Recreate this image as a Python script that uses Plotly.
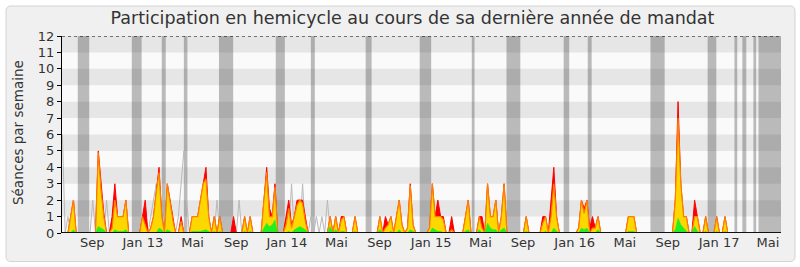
import pandas as pd
import plotly.graph_objects as go

# ---------------- data (weekly, first week starting 2012-06-11) ----------------
week_start = "2012-06-11"

# red: présences
presence = [
    0, 0, 0, 1, 2, 0, 0, 0, 0, 0,        # 0-9
    0, 0, 0, 5, 3, 1.2, 0, 0, 1, 3,      # 10-19
    1, 1, 1, 2, 0, 0, 0, 0, 0, 1,        # 20-29
    2, 0, 0.3, 1, 2.5, 4, 1, 0, 3, 2,    # 30-39
    1, 0, 0, 1, 0, 0, 0, 1, 1, 1,        # 40-49
    2, 3, 4, 1, 0, 1, 0, 1, 0, 0,        # 50-59
    0, 0, 1, 0, 0, 0, 1, 0, 1, 0,        # 60-69
    0, 0, 0, 2, 4, 1.5, 1, 3, 0, 0,      # 70-79
    0, 1, 2, 0.5, 1, 2, 2, 2, 1, 0,      # 80-89
    0, 0, 0, 0, 0, 0, 0, 1, 0, 1,        # 90-99
    0, 1, 1, 0, 0, 0, 1, 0, 0, 0,        # 100-109
    0, 0, 0, 0, 0, 1, 0, 1, 0.5, 1,      # 110-119
    0, 1, 2, 0.5, 0, 0.3, 3, 0.5, 0, 0,  # 120-129
    0, 0, 0, 0.3, 3, 1, 2, 1, 1, 0,      # 130-139
    0, 1, 0, 0, 0, 0, 1, 2, 0, 0,        # 140-149
    0, 1, 1, 0, 3, 1, 1, 2, 0, 1,        # 150-159
    3, 0, 0, 0, 0, 0, 0, 0, 1, 0,        # 160-169
    0, 0, 0, 0, 1, 1, 0, 2, 4, 1,        # 170-179
    0, 0, 0, 0, 0, 0, 0, 0.3, 2, 1.5,    # 180-189
    2, 0.3, 1, 0.3, 1, 0, 0, 0, 0, 0,    # 190-199
    0, 0, 0, 0, 0, 1, 1, 1, 0, 0,        # 200-209
    0, 0, 0, 0, 0, 0, 0, 0, 0, 0,        # 210-219
    0, 0, 2, 8, 3, 1, 1, 0, 0, 2,        # 220-229
    1, 0, 0, 1, 0, 0, 0, 1, 0, 0,        # 230-239
    1, 0, 0, 0, 0, 0, 0, 0, 0, 0,        # 240-249
    0, 0, 0, 0, 0, 0, 0, 0, 0, 0,        # 250-259
]

# yellow: participations
participation = [
    0, 0, 0, 1, 2, 0, 0, 0, 0, 0,
    0, 0, 0, 4.9, 2.6, 1, 0, 0, 0.3, 2,
    1, 1, 1, 2, 0, 0, 0, 0, 0, 1,
    0.5, 0, 0.3, 1, 2.5, 3.7, 1, 0, 3, 1.8,
    0.8, 0, 0, 0.7, 0, 0, 0, 1, 1, 1,
    2, 3, 3.3, 1, 0, 1, 0, 1, 0, 0,
    0, 0, 0, 0, 0, 0, 1, 0, 1, 0,
    0, 0, 0, 2, 3.7, 1, 1, 2.8, 0, 0,
    0, 0.5, 1.5, 0.3, 1, 1.7, 2, 1.8, 0.7, 0,
    0, 0, 0, 0, 0, 0, 0, 1, 0, 1,
    0, 0.8, 1, 0, 0, 0, 1, 0, 0, 0,
    0, 0, 0, 0, 0, 1, 0, 0.3, 0.5, 1,
    0, 1, 2, 0.5, 0, 0.3, 2.9, 0.5, 0, 0,
    0, 0, 0, 0.3, 3, 1, 1, 1, 0.8, 0,
    0, 0.2, 0, 0, 0, 0, 1, 2, 0, 0,
    0, 1, 0.3, 0, 3, 1, 1, 2, 0, 1,
    3, 0, 0, 0, 0, 0, 0, 0, 1, 0,
    0, 0, 0, 0, 0.6, 1, 0, 1, 3, 1,
    0, 0, 0, 0, 0, 0, 0, 0.3, 2, 1.2,
    2, 0, 0.3, 0.3, 1, 0, 0, 0, 0, 0,
    0, 0, 0, 0, 0, 1, 1, 1, 0, 0,
    0, 0, 0, 0, 0, 0, 0, 0, 0, 0,
    0, 0, 2, 7, 3, 1, 1, 0, 0, 1,
    1, 0, 0, 1, 0, 0, 0, 1, 0, 0,
    1, 0, 0, 0, 0, 0, 0, 0, 0, 0,
    0, 0, 0, 0, 0, 0, 0, 0, 0, 0,
]

# green: interventions
interventions = [
    0, 0, 0, 0, 0.2, 0, 0, 0, 0, 0,
    0, 0, 0, 0.4, 0.3, 0.2, 0, 0, 0, 0.2,
    0.1, 0.1, 0.1, 0.2, 0, 0, 0, 0, 0, 0,
    0, 0, 0, 0, 0, 0.3, 0.2, 0, 0.2, 0.1,
    0, 0, 0, 0, 0, 0, 0, 0.1, 0.1, 0.1,
    0.1, 0.15, 0.2, 0.1, 0, 0.1, 0, 0.1, 0, 0,
    0, 0, 0, 0, 0, 0, 0.1, 0, 0.1, 0,
    0, 0, 0, 0.3, 0.6, 0.4, 0.5, 0.8, 0, 0,
    0, 0, 0.1, 0, 0.2, 0.3, 0.4, 0.3, 0.2, 0,
    0, 0, 0, 0, 0, 0, 0, 0.4, 0, 0.2,
    0, 0.1, 0.1, 0, 0, 0, 0.1, 0, 0, 0,
    0, 0, 0, 0, 0, 0.2, 0, 0, 0, 0.1,
    0, 0, 0.2, 0, 0, 0, 0.2, 0.1, 0, 0,
    0, 0, 0, 0, 0.3, 0.2, 0.1, 0.1, 0, 0,
    0, 0, 0, 0, 0, 0, 0.1, 0.2, 0, 0,
    0, 0.2, 0, 0, 0.6, 0.3, 0.2, 0.2, 0, 0.2,
    0.3, 0, 0, 0, 0, 0, 0, 0, 0.1, 0,
    0, 0, 0, 0, 0, 0.1, 0, 0, 0.3, 0.1,
    0, 0, 0, 0, 0, 0, 0, 0, 0.3, 0.2,
    0.3, 0, 0, 0, 0.2, 0, 0, 0, 0, 0,
    0, 0, 0, 0, 0, 0.1, 0.1, 0.1, 0, 0,
    0, 0, 0, 0, 0, 0, 0, 0, 0, 0,
    0, 0, 0.2, 0.9, 0.5, 0.3, 0.1, 0, 0, 0.4,
    0.1, 0, 0, 0.1, 0, 0, 0, 0.1, 0, 0,
    0.1, 0, 0, 0, 0, 0, 0, 0, 0, 0,
    0, 0, 0, 0, 0, 0, 0, 0, 0, 0,
]

# grey line: médiane
mediane = [
    6, 0, 1, 0, 0, 0, 0, 0, 0, 0,
    0, 2, 0, 0, 0, 0, 2, 0, 0, 0,
    0, 0, 0, 0, 0, 0, 0, 0, 0, 0,
    0, 0, 1, 2, 3, 0, 0, 0, 0, 0,
    0, 0, 1, 3, 5, 2, 0, 0, 0, 0,
    2, 0, 0, 0, 0, 0, 2, 0, 0, 0,
    0, 0, 0, 0, 2, 0, 0, 0, 0, 0,
    0, 0, 0, 0, 0, 0, 0, 0, 0, 0,
    0, 0, 0, 3, 0, 0, 0, 3, 0, 0,
    1, 0, 1, 0, 1, 0, 2, 0, 0, 0,
] + [0] * 160

# vacances parlementaires
vacances = [
    ("2012-07-20", "2012-08-18"), ("2012-12-04", "2012-12-29"),
    ("2013-02-18", "2013-02-28"), ("2013-04-15", "2013-04-24"),
    ("2013-07-13", "2013-08-18"), ("2013-12-04", "2013-12-27"),
    ("2014-03-03", "2014-03-13"), ("2014-07-20", "2014-08-04"),
    ("2014-12-04", "2015-01-02"), ("2015-04-15", "2015-04-22"),
    ("2015-07-12", "2015-08-16"), ("2015-12-04", "2015-12-18"),
    ("2016-02-03", "2016-02-13"), ("2016-07-11", "2016-08-16"),
    ("2016-12-03", "2016-12-25"), ("2017-02-09", "2017-02-16"),
    ("2017-03-01", "2017-03-11"), ("2017-03-29", "2017-04-05"),
    ("2017-04-11", "2017-06-07"),
]

tick_dates = ["2012-08-26", "2013-01-01", "2013-05-07", "2013-08-26", "2014-01-01",
              "2014-05-07", "2014-08-24", "2015-01-02", "2015-05-07", "2015-08-23",
              "2016-01-01", "2016-05-07", "2016-08-24", "2017-01-01", "2017-05-05"]
tick_labels = ["Sep", "Jan 13", "Mai", "Sep", "Jan 14", "Mai", "Sep", "Jan 15",
               "Mai", "Sep", "Jan 16", "Mai", "Sep", "Jan 17", "Mai"]

x_range = ["2012-06-10", "2017-06-07"]

# ---------------- figure ----------------
weeks = pd.date_range(week_start, periods=len(presence), freq="7D")

FONT = "DejaVu Sans"
TXT = "#333333"
W, H = 800, 267
L, R, T, B = 62, 19, 36, 34
PW, PH = W - L - R, H - T - B


def px(xp):
    return (xp - L) / PW


def py(yp):
    return (H - B - yp) / PH


fig = go.Figure()
fig.add_trace(go.Scatter(x=weeks, y=mediane, mode="lines",
                         line=dict(color="#b9b9b9", width=1),
                         hoverinfo="skip", showlegend=False))
fig.add_trace(go.Scatter(x=weeks, y=presence, mode="lines", fill="tozeroy",
                         fillcolor="#ff0000", line=dict(color="#ff0000", width=1),
                         hoverinfo="skip", showlegend=False))
fig.add_trace(go.Scatter(x=weeks, y=participation, mode="lines", fill="tozeroy",
                         fillcolor="#ffd700", line=dict(color="#ff7f00", width=1.2),
                         hoverinfo="skip", showlegend=False))
fig.add_trace(go.Scatter(x=weeks, y=interventions, mode="lines", fill="tozeroy",
                         fillcolor="#22ee22", line=dict(color="#22ee22", width=0.5),
                         hoverinfo="skip", showlegend=False))

shapes = []
# outer rounded frame
x0, x1 = px(6), px(795)
y0, y1 = py(6), py(261.5)
rx, ry = 5 / PW, 5 / PH
path = (f"M {x0+rx},{y0} L {x1-rx},{y0} Q {x1},{y0} {x1},{y0-ry} "
        f"L {x1},{y1+ry} Q {x1},{y1} {x1-rx},{y1} L {x0+rx},{y1} "
        f"Q {x0},{y1} {x0},{y1+ry} L {x0},{y0-ry} Q {x0},{y0} {x0+rx},{y0} Z")
shapes.append(dict(type="path", path=path, xref="paper", yref="paper",
                   fillcolor="#f0f0f0", line=dict(color="#d4d4d4", width=1),
                   layer="below"))
# plot background (light band colour)
shapes.append(dict(type="rect", xref="paper", yref="y", x0=0, x1=1, y0=0, y1=12,
                   fillcolor="#fafafa", line=dict(width=0), layer="below"))
# horizontal bands
for k in [1, 3, 5, 7, 9, 11]:
    shapes.append(dict(type="rect", xref="paper", yref="y", x0=0, x1=1,
                       y0=k, y1=k + 1, fillcolor="#e6e6e6",
                       line=dict(width=0), layer="below"))
# vacation bars
for a, b in vacances:
    shapes.append(dict(type="rect", xref="x", yref="paper", x0=a, x1=b,
                       y0=0, y1=1, fillcolor="rgba(40,40,40,0.3)",
                       line=dict(width=0), layer="below"))
# dotted top line and baseline
shapes.append(dict(type="line", xref="paper", yref="y", x0=0, x1=1, y0=12, y1=12,
                   line=dict(color="black", width=1, dash="dot"), layer="above"))
shapes.append(dict(type="line", xref="paper", yref="y", x0=0, x1=1, y0=0, y1=0,
                   line=dict(color="#111111", width=2), layer="above"))

fig.update_layout(
    width=W, height=H, autosize=False,
    margin=dict(l=L, r=R, t=T, b=B, pad=0),
    paper_bgcolor="white", plot_bgcolor="rgba(0,0,0,0)",
    font=dict(family=FONT, size=13, color=TXT),
    shapes=shapes,
    title=dict(text="Participation en hemicycle au cours de sa dernière année de mandat",
               x=412.5 / W, xanchor="center", xref="container",
               y=1 - 18 / H, yanchor="middle", yref="container",
               font=dict(family=FONT, size=17.5, color=TXT)),
    xaxis=dict(type="date", range=x_range, tickmode="array",
               tickvals=tick_dates, ticktext=tick_labels,
               showgrid=False, zeroline=False, showline=False, ticks="",
               tickfont=dict(size=13, color=TXT)),
    yaxis=dict(range=[0, 12], tickmode="linear", tick0=0, dtick=1,
               showgrid=False, zeroline=False, showline=True,
               linecolor="black", linewidth=1, ticks="outside", ticklen=4,
               tickcolor="black", tickfont=dict(size=13, color=TXT)),
    annotations=[dict(text="Séances par semaine", xref="paper", yref="paper",
                      x=px(18), y=py(133), xanchor="center", yanchor="middle",
                      textangle=-90, showarrow=False,
                      font=dict(family=FONT, size=13.5, color=TXT))],
)

fig.write_html("out.html", config={"displayModeBar": False},
               post_script="document.body.style.margin='0px';")
